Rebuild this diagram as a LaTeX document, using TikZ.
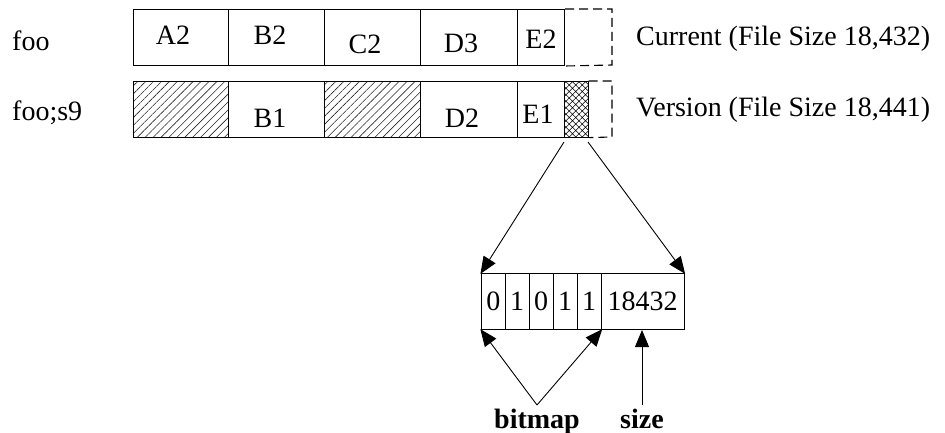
\documentclass[tikz,border=0pt]{standalone}
\usepackage{fontspec}
\setmainfont{Liberation Serif}
\usetikzlibrary{patterns.meta,arrows.meta}
\begin{document}
\begin{tikzpicture}[x=1pt,y=-1pt,
  every node/.style={font=\fontsize{28}{34}\selectfont},
  cell/.style={draw, line width=1pt, inner sep=0pt, anchor=north west, minimum height=56pt},
  txt/.style={anchor=base, inner sep=0pt},
  hatchfill/.style={pattern={Lines[angle=45,distance=5.6pt,line width=0.6pt]}, pattern color=black!85},
  crossfill/.style={pattern={Hatch[angle=45,distance=4.6pt,line width=0.6pt]}, pattern color=black},
  dashline/.style={line width=1.1pt, dash pattern=on 9pt off 5pt},
  arr/.style={line width=0.9pt, -{Triangle[length=17pt,width=14pt]}, shorten >=-1pt}
]
\useasboundingbox (0,0) rectangle (945,433);

% top row
\node[cell, minimum width=95pt] (a2) at (133,9) {};
\node[cell, minimum width=96pt] (b2) at (228,9) {};
\node[cell, minimum width=96pt] (c2) at (324,9) {};
\node[cell, minimum width=97pt] (d3) at (420,9) {};
\node[cell, minimum width=47pt] (e2) at (517,9) {};
\coordinate (tdr1) at (612,9);
\coordinate (tdr2) at (612,65);
\draw[dashline] (e2.north east) -- (tdr1) -- (tdr2) -- (e2.south east);

\node[txt] (ta2) at (173,45) {A2};
\node[txt] (tb2) at (270,45) {B2};
\node[txt] (tc2) at (365,54) {C2};
\node[txt] (td3) at (461,53) {D3};
\node[txt] (te2) at (541,49) {E2};

% bottom row
\node[cell, minimum width=95pt, hatchfill] (a1) at (133,81) {};
\node[cell, minimum width=96pt] (b1) at (228,81) {};
\node[cell, minimum width=96pt, hatchfill] (c1) at (324,81) {};
\node[cell, minimum width=97pt] (d2) at (420,81) {};
\node[cell, minimum width=47pt] (e1) at (517,81) {};
\node[cell, minimum width=24pt, crossfill] (xh) at (564,81) {};
\coordinate (bdr1) at (612,81);
\coordinate (bdr2) at (612,137);
\draw[dashline] (xh.north east) -- (bdr1) -- (bdr2) -- (xh.south east);

\node[txt] (tb1) at (270,128) {B1};
\node[txt] (td2) at (462,128) {D2};
\node[txt] (te1) at (538,124) {E1};

% labels
\node[anchor=base west, inner sep=0pt] (foo) at (12,51) {foo};
\node[anchor=base west, inner sep=0pt] (foos9) at (12,121) {foo;s9};
\node[anchor=base west, inner sep=0pt] (cur) at (636,46) {Current (File Size 18,432)};
\node[anchor=base west, inner sep=0pt] (ver) at (636,117) {Version (File Size 18,441)};

% bitmap record
\node[cell, minimum height=56pt, minimum width=23.5pt] (m0) at (481,273) {};
\node[cell, minimum height=56pt, minimum width=24pt] (m1) at (504.5,273) {};
\node[cell, minimum height=56pt, minimum width=24pt] (m2) at (528.5,273) {};
\node[cell, minimum height=56pt, minimum width=24pt] (m3) at (552.5,273) {};
\node[cell, minimum height=56pt, minimum width=24pt] (m4) at (576.5,273) {};
\node[cell, minimum height=56pt, minimum width=83pt] (sz) at (600.5,273) {};
\node[txt] (t0) at (m0.center |- 0,310) {0};
\node[txt] (t1) at (m1.center |- 0,310) {1};
\node[txt] (t2) at (m2.center |- 0,310) {0};
\node[txt] (t3) at (m3.center |- 0,310) {1};
\node[txt] (t4) at (m4.center |- 0,310) {1};
\node[txt] (ts) at (sz.center |- 0,310) {18432};

% arrows from the cross-hatched block
\coordinate (xs1) at (564,142);
\coordinate (xs2) at (588,142);
\draw[arr] (xs1) -- (m0.north west);
\draw[arr] (xs2) -- (sz.north east);

% bitmap / size labels
\node[txt, font=\fontsize{28}{34}\selectfont\bfseries] (bm) at (537,428) {bitmap};
\node[txt, font=\fontsize{28}{34}\selectfont\bfseries] (sl) at (642,428) {size};
\coordinate (bmt) at (537,405);
\coordinate (slt) at (642,405);
\coordinate (slh) at (642,331);
\draw[arr] (bmt) -- (m0.south west);
\draw[arr] (bmt) -- (m4.south east);
\draw[arr] (slt) -- (slh);
\end{tikzpicture}
\end{document}
